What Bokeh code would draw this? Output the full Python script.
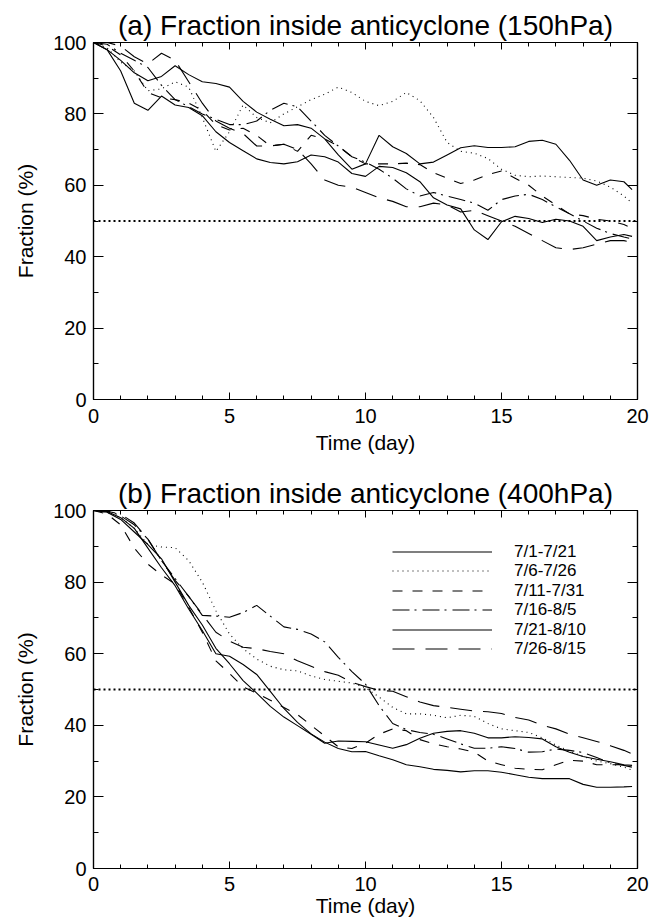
from bokeh.plotting import figure
from bokeh.layouts import column
from bokeh.models import Range1d, LinearAxis, Span, Legend, LegendItem, FixedTicker
from bokeh.embed import file_html
from bokeh.resources import INLINE

FONT = "Liberation Sans"

# ---------------- data ----------------
days = [0, 0.5, 1, 1.5, 2, 2.5, 3, 3.5, 4, 4.5, 5, 5.5, 6, 6.5, 7, 7.5, 8, 8.5, 9, 9.5,
        10, 10.5, 11, 11.5, 12, 12.5, 13, 13.5, 14, 14.5, 15, 15.5, 16, 16.5, 17, 17.5,
        18, 18.5, 19, 19.5, 19.8]

periods = ["7/1-7/21", "7/6-7/26", "7/11-7/31", "7/16-8/5", "7/21-8/10", "7/26-8/15"]

# (a) 150 hPa
a_0701 = [100, 98, 92, 83, 81, 85, 82.5, 81.8, 79.5, 75, 72, 69.7, 67.4, 66.4, 66, 66.6, 68.5, 68, 66.5, 63.3,
          62.5, 65.3, 65, 63.5, 61, 56.5, 54.5, 53.4, 47.5, 44.8, 49.8, 51.3, 50.7, 49.6, 50.5, 50, 48.5, 44.5,
          45.5, 46.2, 45.7]
a_0706 = [100, 98.5, 94.5, 92, 86.5, 87, 89, 87.5, 79, 69.5, 75, 82.5, 79, 77.5, 80, 82, 84, 85.5, 87.5, 86,
          83.5, 82.3, 83.5, 86, 83.7, 79, 72, 69.5, 69, 67.5, 64.5, 62.8, 62.4, 62.6, 62.4, 62.2, 62, 61.2,
          59.5, 57, 55]
a_0711 = [100, 99, 96.5, 92, 86, 84.5, 84, 83, 81, 77, 75.5, 76, 74, 71, 71.5, 69.5, 74, 73, 71, 68,
          66, 66, 66, 66.2, 65.8, 63.5, 62, 60.5, 61.5, 63, 64, 62, 60, 57, 54.5, 52, 51.5, 50.5, 50, 49, 48]
a_0716 = [100, 99.5, 97, 95, 93, 88, 84, 82, 80, 78.5, 77, 77, 78, 81, 83, 82, 78, 74, 71, 68,
          66.5, 64.5, 62, 59, 57, 58, 57, 56, 55, 53, 56, 57, 57.5, 56, 54, 52, 50, 48, 46.5, 45.5, 45]
a_0721 = [100, 98, 95, 91.5, 89.3, 90.5, 93.5, 91, 89, 88.5, 87.5, 83.5, 80.5, 78.5, 76.7, 77, 76, 73, 68.5, 64.5,
          66, 74, 70.8, 68.9, 66, 66.5, 68.5, 70.5, 71.1, 70.6, 70.6, 70.8, 72.3, 72.6, 71.5, 67, 61.5, 60,
          61.5, 61, 58.8]
a_0726 = [100, 100, 99, 96, 94, 97, 95, 89, 83, 78, 76, 74.5, 71, 71, 71.5, 70, 66, 61.5, 60, 59.5,
          58, 56.5, 55.5, 54, 54, 55, 54.5, 52.5, 53, 51.5, 50, 48.5, 46.5, 44.5, 42.5, 42, 42.5, 43.5,
          44.5, 44.5, 44]

# (b) 400 hPa
b_0701 = [100, 99.7, 98, 95, 89.5, 84, 79, 72.5, 66.5, 60, 59.3, 57, 54.2, 49.5, 44.7, 40.8, 37.6, 35.3, 33.5, 32.6,
          32.7, 31.5, 30.4, 29, 28.4, 27.7, 27.4, 27, 27.3, 27.3, 26.9, 26.2, 25.5, 25.1, 25.1, 25.1, 23.5, 22.7,
          22.7, 22.8, 22.9]
b_0706 = [100, 99.5, 98, 95, 90.5, 89.8, 89.6, 86, 80, 72, 65.5, 61.4, 58.5, 56.5, 55.5, 55.2, 53.8, 52.8, 52.3, 51.8,
          50.5, 47.9, 45, 43.2, 43.2, 42.8, 42.1, 42.8, 42.5, 40.5, 39, 38.5, 38, 36.5, 34.5, 32.8, 31.3, 30,
          29.3, 28.3, 27.5]
b_0711 = [100, 99, 96, 89.5, 85, 82, 79.5, 73, 66, 58, 54.5, 50.7, 49, 47, 45, 43, 40, 37, 34, 33.5,
          35, 37.5, 39, 38.5, 36, 34.8, 34, 33.4, 32.5, 30, 29, 28, 27.7, 27.6, 29, 30.2, 30, 29, 29, 29, 28.5]
b_0716 = [100, 100, 98.5, 96, 92, 86, 81, 76, 70.7, 70.5, 70.2, 71.5, 73.5, 70.5, 67.5, 66.8, 65.5, 63.3, 59, 55,
          51.5, 45.5, 40.5, 38.8, 38, 37.5, 36.2, 34.8, 33.6, 33.6, 34, 33.5, 32.5, 32.6, 33.4, 33, 32.4, 31,
          29.5, 28.8, 28.3]
b_0721 = [100, 99.5, 97.5, 94, 90.5, 86.5, 80, 73.5, 68, 61.5, 57.2, 52.5, 49, 45.3, 42.3, 39.9, 37.5, 35, 35.6, 35.5,
          35.4, 34.5, 33.6, 34.6, 36.4, 37.8, 38.3, 38.5, 37.8, 36.5, 36.5, 36.8, 36.6, 36.2, 34, 32.5, 31.3,
          30.5, 29.8, 29, 28.8]
b_0726 = [100, 99.8, 99, 96.5, 92, 86, 80.5, 76, 71, 66, 63.5, 61.8, 61.4, 60.6, 60, 58, 56.5, 55, 54, 52,
          50.8, 49.8, 49.5, 48, 46.5, 45.5, 45, 44.5, 44, 43.8, 43.3, 42.2, 41.5, 40, 39, 37.5, 36.5, 35.5,
          34.3, 33, 32]

half_line = 50
x_major = [0, 5, 10, 15, 20]
x_minor = list(range(0, 21))
y_major = [0, 20, 40, 60, 80, 100]
y_minor = [0, 10, 20, 30, 40, 50, 60, 70, 80, 90, 100]

dashes = ["solid", "1 4", "10 10", "17 5 2 6", "solid", "22 11"]

# legend layout (screen px from frame bottom-left)
LEG_X = 299
LEG_ROW_CENTERS = [316, 297, 277, 258, 238, 219]
LEG_ROW_H = 19


def style_axis(ax, major_in, minor_in, show_labels):
    ax.major_tick_in = major_in
    ax.major_tick_out = 0
    ax.minor_tick_in = minor_in
    ax.minor_tick_out = 0
    ax.axis_line_color = "black"
    ax.axis_line_width = 1.2
    ax.major_tick_line_color = "black"
    ax.minor_tick_line_color = "black"
    if show_labels:
        ax.major_label_text_font = FONT
        ax.major_label_text_font_size = "20px"
        ax.major_label_text_color = "black"
        ax.axis_label_text_font = FONT
        ax.axis_label_text_font_size = "21px"
        ax.axis_label_text_font_style = "normal"
        ax.axis_label_text_color = "black"
    else:
        ax.major_label_text_font_size = "1px"
        ax.major_label_text_color = None
        ax.major_label_standoff = 0
        ax.axis_label = None


def make_panel(title, series, height, top, bottom, tick_standoff, label_standoff, legend=False):
    p = figure(width=652, height=height, x_range=Range1d(0, 20), y_range=Range1d(0, 100),
               output_backend="svg", toolbar_location=None,
               min_border_left=93, min_border_right=15, min_border_top=top, min_border_bottom=bottom)
    p.title.text = title
    p.title.align = "center"
    p.title.text_font = FONT
    p.title.text_font_size = "28px"
    p.title.text_font_style = "normal"
    p.title.text_color = "black"
    p.title.standoff = 4
    p.xgrid.grid_line_color = None
    p.ygrid.grid_line_color = None
    p.outline_line_color = "black"
    p.outline_line_width = 1.2
    p.background_fill_color = "white"
    p.border_fill_color = "white"

    xt = FixedTicker(ticks=x_major, minor_ticks=x_minor)
    yt = FixedTicker(ticks=y_major, minor_ticks=y_minor)

    xa = p.xaxis[0]
    xa.ticker = xt
    xa.axis_label = "Time (day)"
    xa.major_label_standoff = tick_standoff
    xa.axis_label_standoff = label_standoff
    style_axis(xa, 7, 4, True)

    ya = p.yaxis[0]
    ya.ticker = yt
    ya.axis_label = "Fraction (%)"
    ya.major_label_standoff = 7
    ya.axis_label_standoff = 13
    style_axis(ya, 10, 5, True)

    top_ax = LinearAxis(ticker=xt)
    style_axis(top_ax, 7, 4, False)
    p.add_layout(top_ax, "above")
    right_ax = LinearAxis(ticker=yt)
    style_axis(right_ax, 10, 5, False)
    p.add_layout(right_ax, "right")

    p.add_layout(Span(location=half_line, dimension="width", line_color="black",
                      line_width=2, line_dash="2 3"))

    renderers = []
    for vals, dash in zip(series, dashes):
        r = p.line(days, vals, line_color="black", line_width=1.1, line_dash=dash)
        renderers.append(r)

    if legend:
        for lab, r, cy in zip(periods, renderers, LEG_ROW_CENTERS):
            lg = Legend(items=[LegendItem(label=lab, renderers=[r])],
                        location=(LEG_X, cy - LEG_ROW_H / 2),
                        glyph_width=100, glyph_height=LEG_ROW_H, label_height=LEG_ROW_H,
                        label_standoff=22, label_text_font=FONT,
                        label_text_font_size="17px", label_text_color="black",
                        spacing=0, padding=0, margin=0, border_line_color=None,
                        background_fill_alpha=0)
            p.add_layout(lg)
    return p


p1 = make_panel("(a) Fraction inside anticyclone (150hPa)",
                [a_0701, a_0706, a_0711, a_0716, a_0721, a_0726], 465, 42, 66, 9, 5)
p2 = make_panel("(b) Fraction inside anticyclone (400hPa)",
                [b_0701, b_0706, b_0711, b_0716, b_0721, b_0726], 458, 45, 55, 8, 0, legend=True)

layout = column(p1, p2, spacing=0)
open("out.html", "w").write(file_html(layout, INLINE))
